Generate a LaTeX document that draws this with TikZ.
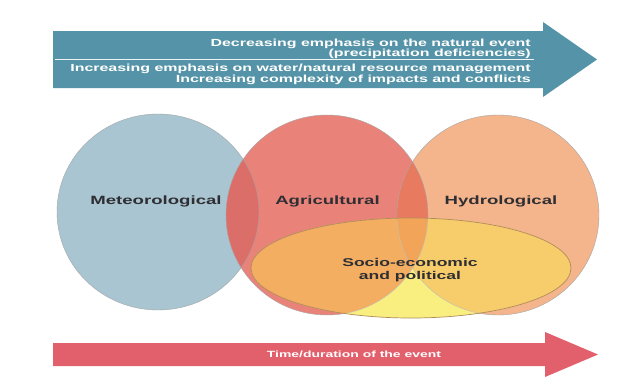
\documentclass[tikz,border=0pt]{standalone}
\usepackage{fontspec}
\newfontfamily\widefont[FakeStretch=1.55]{Liberation Sans}
\definecolor{blueC}{HTML}{A8C5D1}
\definecolor{redC}{HTML}{E9837A}
\definecolor{blueRed}{HTML}{DC6E6A}
\definecolor{orangeC}{HTML}{F4B48C}
\definecolor{redOrange}{HTML}{E87A60}
\definecolor{yellowC}{HTML}{F9EE80}
\definecolor{yellowRed}{HTML}{F3AE62}
\definecolor{yellowOrange}{HTML}{F7CC6B}
\definecolor{yellowRedOrange}{HTML}{F2A558}
\definecolor{topArrow}{HTML}{5594A8}
\definecolor{botArrow}{HTML}{E2606C}
\definecolor{labelC}{HTML}{2F2F33}
\begin{document}
\begin{tikzpicture}[x=1pt,y=-1pt,
  toptxt/.style={anchor=base east,inner sep=0pt,text=white,font=\widefont\bfseries\fontsize{10.3}{11}\selectfont},
  lbl/.style={inner sep=0pt,text=labelC,align=center,font=\widefont\bfseries\fontsize{12}{13}\selectfont},
  bottxt/.style={inner sep=0pt,text=white,font=\widefont\bfseries\fontsize{9}{10}\selectfont},
  edge/.style={draw=black!35,line width=0.4pt},
]
\useasboundingbox (0,0) rectangle (630,381);
\fill[white] (0,0) rectangle (630,381);

% top arrow
\fill[topArrow] (53,31) -- (543,31) -- (543,22) -- (597,59.5) -- (543,97) -- (543,88) -- (53,88) -- cycle;
\coordinate (divL) at (55,59);
\coordinate (divR) at (534,59);
\draw[white!90!topArrow,line width=0.6pt] (divL) -- (divR);
\node[toptxt] (t1) at (531,46) {Decreasing emphasis on the natural event};
\node[toptxt] (t2) at (531,56.3) {(precipitation deficiencies)};
\node[toptxt] (t3) at (531,71.6) {Increasing emphasis on water/natural resource management};
\node[toptxt] (t4) at (531,82.5) {Increasing complexity of impacts and conflicts};

% shapes
\def\blueP{(158,212) ellipse [x radius=101,y radius=98]}
\def\redP{(327,215) ellipse [x radius=101,y radius=100]}
\def\orangeP{(498,215) ellipse [x radius=101,y radius=100]}
\def\yelP{(411,268) ellipse [x radius=160,y radius=50]}

\fill[blueC] \blueP;
\fill[redC] \redP;
\begin{scope}\clip \redP; \fill[blueRed] \blueP; \end{scope}
\fill[orangeC] \orangeP;
\begin{scope}\clip \orangeP; \fill[redOrange] \redP; \end{scope}
\draw[edge] \blueP;
\draw[edge] \redP;
\draw[edge] \orangeP;
\fill[yellowC] \yelP;
\begin{scope}\clip \yelP;
  \fill[yellowRed] \redP;
  \fill[yellowOrange] \orangeP;
  \begin{scope}\clip \redP; \fill[yellowRedOrange] \orangeP; \end{scope}
  \draw[draw=black!25,line width=0.4pt] \redP;
  \draw[draw=black!25,line width=0.4pt] \orangeP;
\end{scope}
\draw[draw={rgb,255:red,176;green,140;blue,90},line width=0.7pt] \yelP;

\node[lbl] (met) at (156,201) {Meteorological};
\node[lbl] (agr) at (327.5,201) {Agricultural};
\node[lbl] (hyd) at (501,201) {Hydrological};
\node[lbl,font=\widefont\bfseries\fontsize{11.3}{13}\selectfont] (soc) at (410,270.5) {Socio-economic\\and political};

% bottom arrow
\fill[botArrow] (53,343) -- (545,343) -- (545,332) -- (598,354.5) -- (545,377) -- (545,366) -- (53,366) -- cycle;
\node[bottxt] (time) at (354,354.5) {Time/duration of the event};
\end{tikzpicture}
\end{document}
